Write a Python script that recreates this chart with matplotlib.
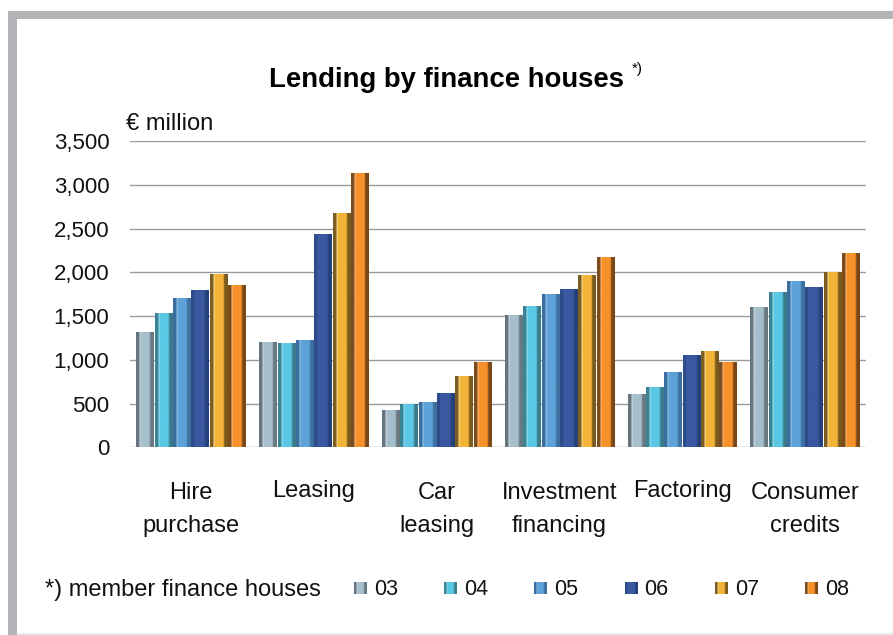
import numpy as np
import matplotlib
matplotlib.use("Agg")
import matplotlib.pyplot as plt
from matplotlib.patches import Rectangle
from matplotlib.colors import to_rgb

# ---- data -------------------------------------------------------------
categories = ["Hire\npurchase", "Leasing", "Car\nleasing",
              "Investment\nfinancing", "Factoring", "Consumer\ncredits"]
years = ["03", "04", "05", "06", "07", "08"]
v03 = [1320, 1205, 430, 1510, 610, 1600]
v04 = [1540, 1190, 495, 1615, 690, 1775]
v05 = [1710, 1225, 520, 1750, 860, 1900]
v06 = [1800, 2435, 620, 1805, 1055, 1830]
v07 = [1985, 2675, 815, 1970, 1100, 2000]
v08 = [1855, 3135, 975, 2180, 975, 2220]
series = [v03, v04, v05, v06, v07, v08]
y_ticks = [0, 500, 1000, 1500, 2000, 2500, 3000, 3500]

title = "Lending by finance houses"
title_note = "*)"
unit_label = "€ million"
footnote = "*) member finance houses"

# shading per series: left edge, highlight, body, right edge
shades = [
    ("#66757f", "#d3e0e6", "#a7bfcc", "#6a7882"),
    ("#3a8595", "#a8e4f2", "#5ac8e4", "#3b7b8a"),
    ("#3a6e9e", "#a2cbec", "#5da2d8", "#3e70a0"),
    ("#2e4b8c", "#3d5ea4", "#3a58a0", "#26407a"),
    ("#7c5e22", "#fbe3a0", "#f3b438", "#7b5a1e"),
    ("#7d4c1b", "#fbc48c", "#f7912a", "#7a4818"),
]

FONT = "Liberation Sans"
plt.rcParams["font.family"] = [FONT, "DejaVu Sans"]

W, H = 893, 635
fig = plt.figure(figsize=(W / 100, H / 100), dpi=100)
fig.patch.set_facecolor("white")


def gradient(shade, n=60):
    left, hi, body, right = [np.array(to_rgb(c)) for c in shade]
    keys = [0.0, 0.17, 0.21, 0.28, 0.74, 0.82, 1.0]
    cols = [left, left, hi, body, body, right, right]
    f = np.linspace(0, 1, n)
    img = np.zeros((1, n, 3))
    for ch in range(3):
        img[0, :, ch] = np.interp(f, keys, [c[ch] for c in cols])
    return img


# ---- decoration layer in pixel coordinates ----------------------------
deco = fig.add_axes([0, 0, 1, 1])
deco.set_xlim(0, W)
deco.set_ylim(H, 0)
deco.axis("off")
frame_gray = "#b2b4b7"
deco.add_patch(Rectangle((8, 11), W - 8, 8, color=frame_gray, lw=0))
deco.add_patch(Rectangle((8, 11), 9, H - 11, color=frame_gray, lw=0))
deco.add_patch(Rectangle((17, H - 2.5), W - 17, 2.5, color="#ebebeb", lw=0))

# ---- main chart -------------------------------------------------------
ax_left, ax_right = 129.6, 866.4
ax_top, ax_bottom = 141.0, 447.3
ax = fig.add_axes([ax_left / W, (H - ax_bottom) / H,
                   (ax_right - ax_left) / W, (ax_bottom - ax_top) / H])
ax.set_facecolor("none")

x = np.arange(len(categories))
slot = 0.896 / len(series)
bar_w = slot * 0.95
for i, (vals, shade) in enumerate(zip(series, shades)):
    bars = ax.bar(x + (i - 2.5) * slot, vals, width=bar_w,
                  color=shade[2], lw=0, zorder=2, label=years[i])
    img = gradient(shade)
    for p in bars.patches:
        x0, w, h = p.get_x(), p.get_width(), p.get_height()
        im = ax.imshow(img, extent=(x0, x0 + w, 0, h), aspect="auto",
                       interpolation="bilinear", zorder=3)
        im.set_clip_path(p)

ax.set_xlim(-0.5, len(categories) - 0.5)
ax.set_ylim(0, 3500)
ax.set_yticks(y_ticks)
ax.set_yticklabels([f"{t:,}" for t in y_ticks], fontsize=16, color="#111111")
ax.set_xticks([])
ax.tick_params(axis="y", length=0, pad=14.6)
for s in ax.spines.values():
    s.set_visible(False)
for t in y_ticks:
    ax.axhline(t, color="#9a9a9a", lw=1.0, zorder=1)

# category labels, one line at a time
ax_h = ax_bottom - ax_top
tr = ax.get_xaxis_transform()
for xi, cat in zip(x, categories):
    lines = cat.split("\n")
    if len(lines) == 1:
        baselines = [497.0]
    else:
        baselines = [499.0, 532.0]
    for line, by in zip(lines, baselines):
        ax.text(xi, (ax_bottom - by) / ax_h, line, transform=tr,
                ha="center", va="baseline", fontsize=17, color="#111111")

# ---- title and unit ---------------------------------------------------
fig.text(446.5 / W, 1 - 87.3 / H, title, ha="center", va="baseline",
         fontsize=19.8, fontweight="bold", color="#000000")
fig.text(632 / W, 1 - 73 / H, title_note, ha="left", va="baseline",
         fontsize=11, color="#000000")
fig.text(126 / W, 1 - 130 / H, unit_label, ha="left", va="baseline",
         fontsize=17, color="#111111")

# ---- footnote and legend ----------------------------------------------
fig.text(45 / W, 1 - 596 / H, footnote, ha="left", va="baseline",
         fontsize=17, color="#111111")
for i, (yr, shade) in enumerate(zip(years, shades)):
    sx = 354 + i * 90.2
    deco.imshow(gradient(shade, 30), extent=(sx, sx + 12.5, 594, 582),
                aspect="auto", interpolation="bilinear", zorder=3)
    deco.text(sx + 20, 595, yr, ha="left", va="baseline",
              fontsize=15.5, color="#111111")
deco.set_xlim(0, W)
deco.set_ylim(H, 0)

fig.savefig("out.png", dpi=100, facecolor="white")
